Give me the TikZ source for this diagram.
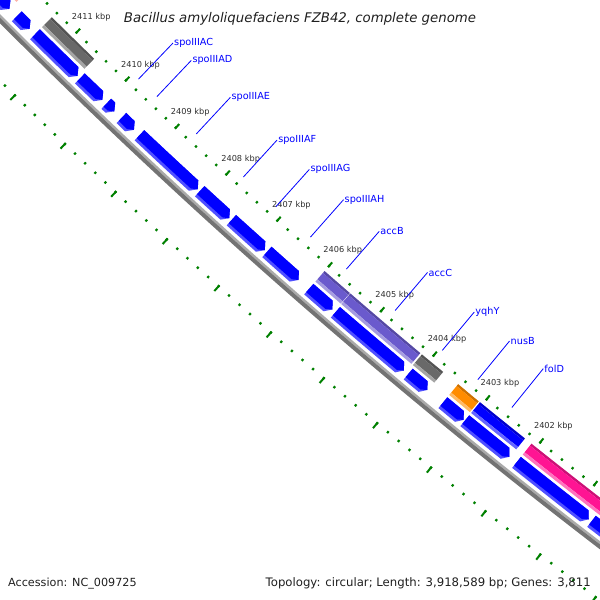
\documentclass[tikz,border=0pt]{standalone}
\usepackage{fontspec}
\setmainfont{DejaVu Sans}[ItalicFont={DejaVu Sans Oblique}]
\usepackage{tikz}

\definecolor{cdsblue}{RGB}{0,0,255}
\definecolor{cdslight}{RGB}{80,80,255}
\definecolor{cogpurple}{RGB}{106,90,205}
\definecolor{coggray}{RGB}{105,105,105}
\definecolor{cogorange}{RGB}{255,140,0}
\definecolor{cogpink}{RGB}{255,20,147}
\definecolor{cogsalmon}{RGB}{250,128,114}
\definecolor{tickgreen}{RGB}{0,128,0}
\definecolor{ticktext}{RGB}{45,45,45}
\definecolor{bbonelight}{RGB}{170,170,170}
\definecolor{bbonedark}{RGB}{115,115,115}

% kbp -> angle on the (zoomed) map circle
\newcommand{\kb}[1]{225.56+0.657*(2411-(#1))}
% ring piece between radii #1 and #2, from #3 to #4 kbp
\newcommand{\ringseg}[5]{%
  \fill[#5] ({\kb{#3}}:#1) arc[start angle={\kb{#3}}, end angle={\kb{#4}}, radius=#1]
    -- ({\kb{#4}}:#2) arc[start angle={\kb{#4}}, end angle={\kb{#3}}, radius=#2] -- cycle;}
% COG box, inner feature ring
\newcommand{\cogbox}[3]{%
  \ringseg{6007.5}{6010}{#1}{#2}{#3!80!black}%
  \ringseg{6010}{6018.5}{#1}{#2}{#3}%
  \ringseg{6018.5}{6021.5}{#1}{#2}{#3!60!white}}
% CDS arrow, outer feature ring (points to lower kbp)
\newcommand{\cdsarrow}[2]{%
  \fill[cdslight] ({\kb{#1}}:6024.5) arc[start angle={\kb{#1}}, end angle={\kb{#2+0.08}}, radius=6024.5]
    -- ({\kb{#2}}:6031.5) -- ({\kb{#2+0.08}}:6038.5)
    arc[start angle={\kb{#2+0.08}}, end angle={\kb{#1}}, radius=6038.5] -- cycle;
  \fill[cdsblue] ({\kb{#1}}:6024.5) arc[start angle={\kb{#1}}, end angle={\kb{#2+0.08}}, radius=6024.5]
    -- ({\kb{#2}}:6031.5) -- ({\kb{#2+0.08}}:6035.5)
    arc[start angle={\kb{#2+0.08}}, end angle={\kb{#1}}, radius=6035.5] -- cycle;}

\begin{document}
\begin{tikzpicture}[x=1bp, y=1bp,
    tickdot/.style={tickgreen, line width=2.2bp},
    ticklong/.style={tickgreen, line width=2bp},
    ticklabel/.style={text=ticktext, font=\fontsize{8.2bp}{9.8bp}\selectfont, inner sep=0pt},
    genelabel/.style={text=cdsblue, font=\fontsize{9.7bp}{11.6bp}\selectfont, anchor=west, inner sep=1bp},
    leader/.style={cdsblue, line width=0.8bp},
    maptext/.style={text=black!88, inner sep=0pt}]
\useasboundingbox (0,-600) rectangle (600,0);
\begin{scope}
\clip (0,-600) rectangle (600,0);
\begin{scope}[shift={(4278,4252)}]
    % ticks
    \foreach \i in {0,...,70} {
        \draw[tickdot] ({\kb{2399+0.2*\i}}:5999.8) -- ({\kb{2399+0.2*\i}}:6002.2);
        \draw[tickdot] ({\kb{2399+0.2*\i}}:6088) -- ({\kb{2399+0.2*\i}}:6090.4);
    }
    \foreach \k in {2399,...,2413} {
        \draw[ticklong] ({\kb{\k}}:5996) -- ({\kb{\k}}:6002.2);
        \draw[ticklong] ({\kb{\k}}:6088) -- ({\kb{\k}}:6095.6);
    }
    \foreach \k in {2402,...,2411}
        \node[ticklabel] (tick\k) at ({\kb{\k}}:5980) {\k\ kbp};

    % COG ring
    \cogbox{2413}{2411.93}{cogsalmon}
    \cogbox{2411.41}{2410.55}{coggray}
    \cogbox{2406.00}{2405.515}{cogpurple}
    \cogbox{2405.505}{2404.17}{cogpurple}
    \cogbox{2404.14}{2403.74}{coggray}
    \cogbox{2403.46}{2403.07}{cogorange}
    \cogbox{2403.05}{2402.21}{cdsblue}
    \cogbox{2402.09}{2399}{cogpink}

    % CDS ring
    \cdsarrow{2413}{2411.93}
    \cdsarrow{2411.78}{2411.52}
    \cdsarrow{2411.41}{2410.55}
    \cdsarrow{2410.50}{2410.05}
    \cdsarrow{2409.97}{2409.81}
    \cdsarrow{2409.67}{2409.42}
    \cdsarrow{2409.31}{2408.16}
    \cdsarrow{2408.12}{2407.54}
    \cdsarrow{2407.50}{2406.85}
    \cdsarrow{2406.81}{2406.20}
    \cdsarrow{2406.00}{2405.55}
    \cdsarrow{2405.49}{2404.19}
    \cdsarrow{2404.11}{2403.75}
    \cdsarrow{2403.46}{2403.07}
    \cdsarrow{2403.05}{2402.22}
    \cdsarrow{2402.09}{2400.76}
    \cdsarrow{2400.71}{2399}

    % backbone
    \ringseg{6042}{6044.5}{2413}{2399}{bbonelight}
    \ringseg{6044.5}{6048.5}{2413}{2399}{bbonedark}

    % gene labels
    \foreach \gname/\gpos in {spoIIIAC/2409.88, spoIIIAD/2409.51, spoIIIAE/2408.72,
            spoIIIAF/2407.79, spoIIIAG/2407.15, spoIIIAH/2406.48, accB/2405.78,
            accC/2404.85, yqhY/2403.95, nusB/2403.28, folD/2402.64} {
        \coordinate (\gname-foot) at ({\kb{\gpos}}:5991.5);
        \node[genelabel] (\gname) at ({\kb{\gpos}}:5941.5) {\gname};
        \draw[leader] (\gname-foot) -- (\gname.west);
    }
\end{scope}
\end{scope}

\node[maptext, anchor=base, font=\fontsize{13.3bp}{16bp}\selectfont\itshape] (title) at (300,-23)
    {Bacillus amyloliquefaciens FZB42, complete genome};
\node[maptext, anchor=base west, font=\fontsize{11.2bp}{13bp}\selectfont] (accession) at (8,-586)
    {Accession: NC\_009725};
\node[maptext, anchor=base east, font=\fontsize{11.7bp}{13bp}\selectfont] (topology) at (591,-586)
    {Topology: circular; Length: 3,918,589 bp; Genes: 3,811};
\end{tikzpicture}
\end{document}
